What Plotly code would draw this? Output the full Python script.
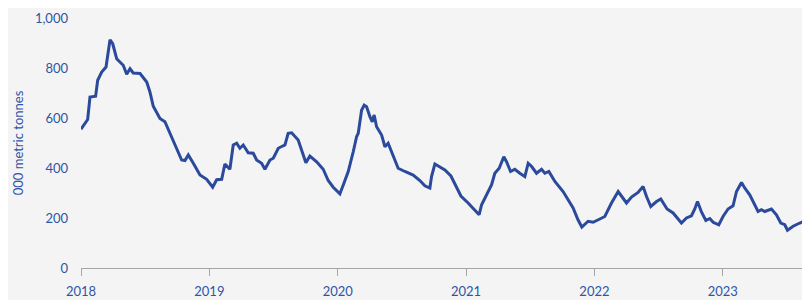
import plotly.graph_objects as go

# time in decimal years, values in thousand metric tonnes
years = [
    2018.000, 2018.052, 2018.070, 2018.114, 2018.130, 2018.161, 2018.195, 2018.213, 2018.226, 2018.247,
    2018.278, 2018.329, 2018.356, 2018.382, 2018.407, 2018.460, 2018.512, 2018.537, 2018.563, 2018.615,
    2018.654, 2018.693, 2018.745, 2018.784, 2018.810, 2018.836, 2018.875, 2018.927, 2018.979, 2019.026,
    2019.057, 2019.096, 2019.121, 2019.160, 2019.186, 2019.213, 2019.238, 2019.264, 2019.303, 2019.342,
    2019.368, 2019.407, 2019.433, 2019.472, 2019.498, 2019.537, 2019.571, 2019.589, 2019.614, 2019.641,
    2019.692, 2019.719, 2019.752, 2019.783, 2019.836, 2019.887, 2019.926, 2019.965, 2020.017, 2020.044,
    2020.082, 2020.121, 2020.147, 2020.160, 2020.186, 2020.206, 2020.225, 2020.251, 2020.269, 2020.284,
    2020.303, 2020.342, 2020.368, 2020.393, 2020.432, 2020.471, 2020.523, 2020.588, 2020.640, 2020.679,
    2020.718, 2020.731, 2020.757, 2020.796, 2020.835, 2020.882, 2020.913, 2020.960, 2021.016, 2021.069,
    2021.102, 2021.121, 2021.160, 2021.199, 2021.224, 2021.258, 2021.294, 2021.315, 2021.347, 2021.380,
    2021.419, 2021.458, 2021.484, 2021.511, 2021.549, 2021.588, 2021.614, 2021.645, 2021.692, 2021.756,
    2021.795, 2021.834, 2021.872, 2021.902, 2021.951, 2021.990, 2022.042, 2022.081, 2022.133, 2022.185,
    2022.250, 2022.289, 2022.340, 2022.379, 2022.406, 2022.439, 2022.484, 2022.517, 2022.566, 2022.613,
    2022.678, 2022.717, 2022.756, 2022.782, 2022.803, 2022.834, 2022.868, 2022.899, 2022.925, 2022.969,
    2023.002, 2023.041, 2023.080, 2023.107, 2023.146, 2023.171, 2023.210, 2023.249, 2023.275, 2023.301,
    2023.327, 2023.379, 2023.418, 2023.452, 2023.483, 2023.504, 2023.548, 2023.600, 2023.664,
]
stocks = [
    555, 594, 684, 687, 751, 784, 804, 870, 913, 897,
    837, 811, 775, 797, 780, 778, 744, 704, 647, 598,
    585, 539, 479, 432, 430, 452, 419, 372, 355, 323,
    353, 355, 416, 395, 492, 499, 479, 492, 461, 459,
    432, 419, 395, 432, 439, 479, 488, 492, 539, 541,
    512, 472, 421, 448, 425, 395, 350, 323, 297, 333,
    386, 465, 525, 539, 631, 651, 645, 605, 585, 612,
    565, 532, 485, 499, 452, 399, 386, 372, 350, 329,
    320, 366, 416, 403, 392, 368, 336, 288, 260, 233,
    213, 253, 293, 333, 379, 399, 445, 425, 386, 395,
    379, 366, 419, 406, 379, 395, 379, 386, 346, 306,
    273, 240, 193, 164, 187, 183, 196, 206, 260, 306,
    260, 284, 302, 326, 286, 246, 266, 276, 236, 220,
    180, 200, 209, 236, 266, 224, 190, 198, 183, 173,
    206, 236, 249, 306, 342, 320, 293, 253, 226, 233,
    226, 236, 213, 180, 173, 151, 167, 180, 193,
]
tick_years = [2018, 2019, 2020, 2021, 2022, 2023]
tick_labels = ["2018", "2019", "2020", "2021", "2022", "2023"]
y_ticks = [0, 200, 400, 600, 800, 1000]
y_labels = ["0", "200", "400", "600", "800", "1,000"]

blue_text = "#2e54a6"
line_col = "#2b4a9c"
bg = "#f4f4f4"

fig = go.Figure(go.Scatter(
    x=years, y=stocks, mode="lines",
    line=dict(color=line_col, width=3, shape="linear"),
    hoverinfo="skip",
))

# the page adds an 8px body margin, so the figure is sized to fit inside it
fig.update_layout(
    width=802, height=292,
    margin=dict(l=73, r=2, t=10, b=32),
    paper_bgcolor=bg, plot_bgcolor=bg,
    showlegend=False,
    font=dict(family="Lato, 'Open Sans', sans-serif", size=13, color=blue_text),
)
fig.update_xaxes(
    range=[2018, 2023.664], automargin=False,
    tickvals=tick_years, ticktext=tick_labels,
    showgrid=False, zeroline=False,
    showline=True, linecolor="#a6a6a6", linewidth=1,
    ticks="outside", ticklen=7, tickcolor="#a6a6a6", tickwidth=1,
    ticklabelstandoff=4,
    tickfont=dict(size=13, color=blue_text),
)
fig.update_yaxes(
    range=[0, 1000], automargin=False,
    tickvals=y_ticks, ticktext=y_labels,
    showgrid=False, zeroline=False, showline=False,
    ticks="", ticklabelstandoff=12,
    tickfont=dict(size=13, color=blue_text),
    title=dict(text="000 metric tonnes", standoff=8, font=dict(size=13, color=blue_text)),
)

fig.write_html("out.html")
